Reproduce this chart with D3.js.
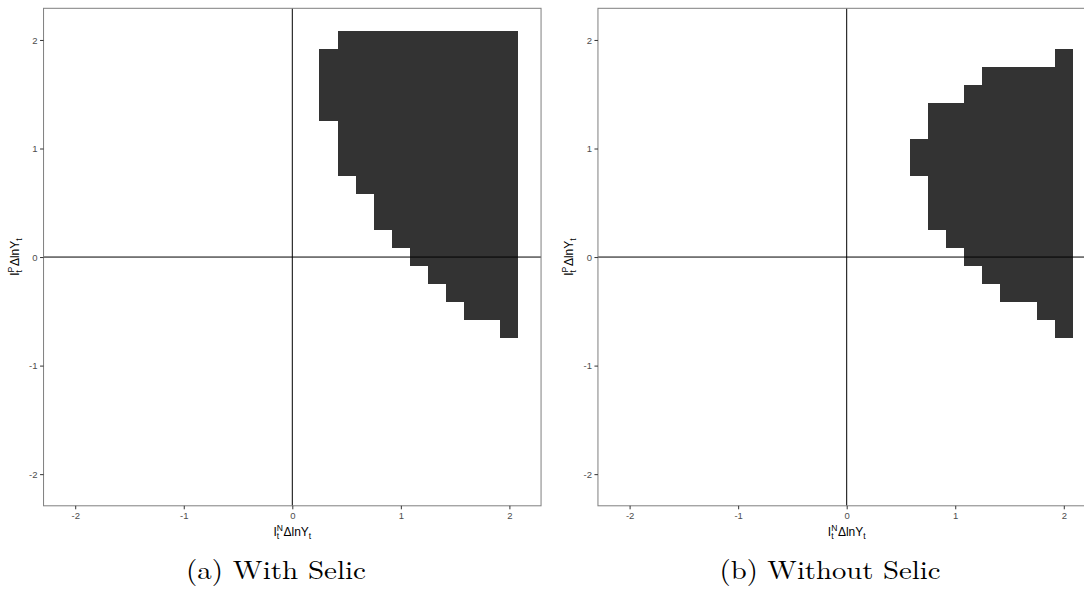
<!DOCTYPE html>
<html>
<head>
<meta charset="utf-8">
<script src="https://cdn.jsdelivr.net/npm/d3@7/dist/d3.min.js"></script>
<style>
  html, body { margin: 0; padding: 0; background: #fff; }
  svg { display: block; }
</style>
</head>
<body>
<svg id="chart" width="1084" height="593"></svg>
<script>
// ---- data ----
const gridStep = 1 / 6;              // grid spacing of the tiles
const lastCol = 12;                  // rightmost filled grid column (x = 2)
const tickValues = [-2, -1, 0, 1, 2];
const tickLabels = ["-2", "-1", "0", "1", "2"];

// Panel (a) With Selic: row index (y = row*step) and leftmost filled column index
const rowsA = [12, 11, 10, 9, 8, 7, 6, 5, 4, 3, 2, 1, 0, -1, -2, -3, -4];
const leftA = [ 3,  2,  2, 2, 2, 3, 3, 3, 4, 5, 5, 6, 7,  8,  9, 10, 12];

// Panel (b) Without Selic
const rowsB = [11, 10, 9, 8, 7, 6, 5, 4, 3, 2, 1, 0, -1, -2, -3, -4];
const leftB = [12,  8, 7, 5, 5, 4, 4, 5, 5, 5, 6, 7,  8,  9, 11, 12];

const captions = ["(a) With Selic", "(b) Without Selic"];

// ---- layout ----
const svg = d3.select("#chart");
svg.append("rect").attr("width", 1084).attr("height", 593).attr("fill", "#fff");

const half = 12.5 * gridStep;          // tile extent = 2.0833
const lim = half + 0.05 * 2 * half;    // ggplot 5% expansion
const size = 497.5;
const panels = [
  { left: 43.55, top: 8.3, rows: rowsA, lefts: leftA, caption: captions[0], capX: 276, capW: 180 },
  { left: 597.95, top: 8.3, rows: rowsB, lefts: leftB, caption: captions[1], capX: 830, capW: 221 }
];

const font = "'Liberation Sans', Arial, Helvetica, sans-serif";

function mathLabel(sel, sup, wSup) {
  const small = 8.5, wt = 0.278 * small;
  sel.append("tspan").text("I");
  sel.append("tspan").attr("font-size", small).attr("dy", -4.8).text(sup);
  sel.append("tspan").attr("font-size", small).attr("dx", -wSup).attr("dy", 8).text("t");
  sel.append("tspan").attr("dx", wSup - wt + 0.6).attr("dy", -3.2).text("\u0394lnY");
  sel.append("tspan").attr("font-size", small).attr("dy", 3.2).text("t");
}

panels.forEach(p => {
  const x = d3.scaleLinear().domain([-lim, lim]).range([p.left, p.left + size]);
  const y = d3.scaleLinear().domain([-lim, lim]).range([p.top + size, p.top]);
  const g = svg.append("g");

  // tiles (one rect per row, spanning the filled columns)
  const rowsData = p.rows.map((r, i) => ({ row: r, from: p.lefts[i], to: lastCol }));
  g.selectAll("rect.tile").data(rowsData).enter().append("rect")
    .attr("class", "tile")
    .attr("x", d => x((d.from - 0.5) * gridStep))
    .attr("width", d => x((d.to + 0.5) * gridStep) - x((d.from - 0.5) * gridStep))
    .attr("y", d => y((d.row + 0.5) * gridStep))
    .attr("height", d => y((d.row - 0.5) * gridStep) - y((d.row + 0.5) * gridStep))
    .attr("fill", "#333333")
    .attr("shape-rendering", "crispEdges");

  // zero reference lines
  g.append("line").attr("x1", x(0)).attr("x2", x(0)).attr("y1", y(-lim)).attr("y2", y(lim))
    .attr("stroke", "#000").attr("stroke-width", 1);
  g.append("line").attr("x1", x(-lim)).attr("x2", x(lim)).attr("y1", y(0)).attr("y2", y(0))
    .attr("stroke", "#000").attr("stroke-width", 1);

  // panel border
  g.append("rect").attr("x", p.left).attr("y", p.top).attr("width", size).attr("height", size)
    .attr("fill", "none").attr("stroke", "#7f7f7f").attr("stroke-width", 1);

  // axes
  const xAxis = d3.axisBottom(x).tickValues(tickValues).tickFormat((d, i) => tickLabels[i])
    .tickSize(3.5).tickPadding(2.5);
  const yAxis = d3.axisLeft(y).tickValues(tickValues).tickFormat((d, i) => tickLabels[i])
    .tickSize(3.5).tickPadding(2.5);
  const gx = g.append("g").attr("transform", `translate(0,${p.top + size})`).call(xAxis);
  const gy = g.append("g").attr("transform", `translate(${p.left},0)`).call(yAxis);
  [gx, gy].forEach(a => {
    a.select(".domain").remove();
    a.selectAll(".tick line").attr("stroke", "#333");
    a.selectAll(".tick text").attr("fill", "#4d4d4d").attr("font-size", 9.5).attr("font-family", font);
  });

  // axis titles
  const xt = g.append("text").attr("x", p.left + size / 2).attr("y", 536)
    .attr("text-anchor", "middle").attr("font-family", font).attr("font-size", 12).attr("fill", "#000");
  mathLabel(xt, "N", 0.722 * 8.5);
  const cy = p.top + size / 2;
  const yt = g.append("text").attr("transform", `translate(${p.left - 25},${cy}) rotate(-90)`)
    .attr("text-anchor", "middle").attr("font-family", font).attr("font-size", 12).attr("fill", "#000");
  mathLabel(yt, "P", 0.667 * 8.5);

  // caption
  svg.append("text").attr("x", p.capX).attr("y", 579)
    .attr("text-anchor", "middle")
    .attr("font-family", "'Latin Modern Roman','CMU Serif','Liberation Serif','Times New Roman',serif")
    .attr("font-size", 26).attr("fill", "#000")
    .attr("textLength", p.capW).attr("lengthAdjust", "spacingAndGlyphs")
    .text(p.caption);
});
</script>
</body>
</html>
